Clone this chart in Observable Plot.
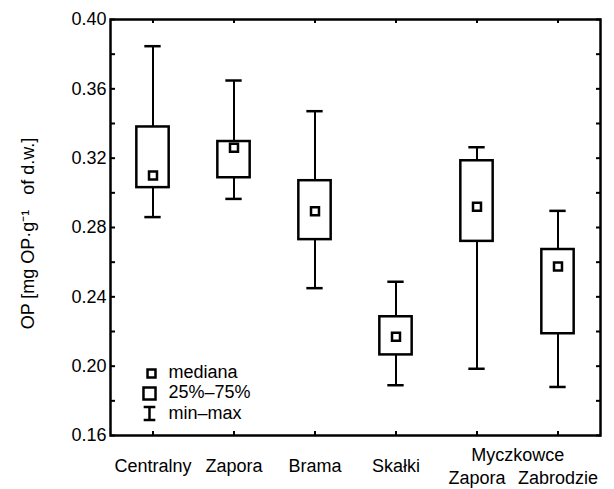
<!DOCTYPE html>
<html>
<head>
<meta charset="utf-8">
<script src="https://cdn.jsdelivr.net/npm/d3@7"></script>
<script src="https://cdn.jsdelivr.net/npm/@observablehq/plot@0.6"></script>
<style>
  html, body { margin: 0; padding: 0; background: #fff; }
  #chart svg { display: block; }
</style>
</head>
<body>
<div id="chart"></div>
<script>
// ---- data ----
const sites = ["Centralny", "Zapora", "Brama", "Skałki", "Myczkowce Zapora", "Myczkowce Zabrodzie"];
const siteLabels = ["Centralny", "Zapora", "Brama", "Skałki", "Zapora", "Zabrodzie"];
const groupLabel = "Myczkowce";
const mins    = [0.286, 0.2965, 0.245, 0.189, 0.1985, 0.188];
const q1s     = [0.303, 0.3087, 0.273, 0.2065, 0.272, 0.2187];
const medians = [0.310, 0.326, 0.2894, 0.217, 0.292, 0.2575];
const q3s     = [0.338, 0.3296, 0.307, 0.2285, 0.3185, 0.2673];
const maxs    = [0.3846, 0.3648, 0.3471, 0.2487, 0.3263, 0.2896];
const yTickLabels = [0.16, 0.20, 0.24, 0.28, 0.32, 0.36, 0.40];
const yTicksAll = [0.16, 0.18, 0.20, 0.22, 0.24, 0.26, 0.28, 0.30, 0.32, 0.34, 0.36, 0.38, 0.40];
const yLabel = "OP [mg OP·g⁻¹   of d.w.]";
const legendLabels = ["mediana", "25%–75%", "min–max"];

const data = sites.map((s, i) => ({site: s, min: mins[i], q1: q1s[i], med: medians[i], q3: q3s[i], max: maxs[i]}));
const labelOf = new Map(sites.map((s, i) => [s, siteLabels[i]]));

const symbolI = {
  draw(ctx, size) {
    const h = Math.sqrt(size) / 2;
    ctx.moveTo(-h * 0.9, -h); ctx.lineTo(h * 0.9, -h);
    ctx.moveTo(0, -h); ctx.lineTo(0, h);
    ctx.moveTo(-h * 0.9, h); ctx.lineTo(h * 0.9, h);
  }
};

const font = "'Liberation Sans', Arial, sans-serif";
const bw = 490 / 6;
const boxInset = (bw - 33) / 2;
const capInset = (bw - 17) / 2;

const plot = Plot.plot({
  width: 614,
  height: 489,
  marginLeft: 110,
  marginRight: 14,
  marginTop: 19,
  marginBottom: 54,
  style: {fontFamily: font, fontSize: "18px", color: "#000", background: "#fff"},
  x: {type: "band", domain: sites, padding: 0},
  y: {domain: [0.16, 0.40]},
  marks: [
    // whiskers
    Plot.ruleX(data, {x: "site", y1: "min", y2: "q1", stroke: "#000", strokeWidth: 2}),
    Plot.ruleX(data, {x: "site", y1: "q3", y2: "max", stroke: "#000", strokeWidth: 2}),
    Plot.tickY(data, {x: "site", y: "min", stroke: "#000", strokeWidth: 2.5, insetLeft: capInset, insetRight: capInset}),
    Plot.tickY(data, {x: "site", y: "max", stroke: "#000", strokeWidth: 2.5, insetLeft: capInset, insetRight: capInset}),
    // boxes
    Plot.barY(data, {x: "site", y1: "q1", y2: "q3", fill: "#fff", stroke: "#000", strokeWidth: 2.5, insetLeft: boxInset, insetRight: boxInset}),
    // medians
    Plot.dot(data, {x: "site", y: "med", symbol: "square", r: 4.5, fill: "#fff", stroke: "#000", strokeWidth: 2.5}),
    // axes
    Plot.axisY(yTickLabels, {anchor: "left", tickSize: 0, tickPadding: 4, tickFormat: d3.format(".2f"), fontSize: 18, label: null}),
    Plot.axisY(yTicksAll, {anchor: "left", tickSize: -5, text: null, strokeWidth: 2, label: null}),
    Plot.axisY(yTicksAll, {anchor: "right", tickSize: -5, text: null, strokeWidth: 2, label: null}),
    Plot.axisX({anchor: "top", tickSize: -3, text: null, strokeWidth: 2, label: null}),
    Plot.axisX({anchor: "bottom", tickSize: -4, text: null, strokeWidth: 2, label: null}),
    Plot.axisX(sites.slice(0, 4), {anchor: "bottom", tickSize: 0, tickPadding: 24, tickFormat: d => labelOf.get(d), fontSize: 18, label: null}),
    Plot.axisX(sites.slice(4), {anchor: "bottom", tickSize: 0, tickPadding: 36, tickFormat: d => labelOf.get(d), fontSize: 18, label: null}),
    Plot.text([groupLabel], {x: () => sites[4], text: d => d, frameAnchor: "bottom", lineAnchor: "middle", dx: bw / 2, dy: 20, fontSize: 18}),
    // y label
    Plot.text([yLabel], {text: d => d, frameAnchor: "left", textAnchor: "middle", lineAnchor: "middle", dx: -82, dy: 6, rotate: -90, fontSize: 18}),
    // frame
    Plot.frame({stroke: "#000", strokeWidth: 2.5}),
    // legend
    Plot.dot([legendLabels[0]], {frameAnchor: "bottom-left", dx: 41, dy: -62, symbol: "square", r: 4.5, fill: "#fff", stroke: "#000", strokeWidth: 2.5}),
    Plot.dot([legendLabels[1]], {frameAnchor: "bottom-left", dx: 39, dy: -42, symbol: "square", r: 6.8, fill: "#fff", stroke: "#000", strokeWidth: 2.5}),
    Plot.dot([legendLabels[2]], {frameAnchor: "bottom-left", dx: 39, dy: -22, symbol: symbolI, r: 7.3, fill: "none", stroke: "#000", strokeWidth: 2.5}),
    Plot.text([legendLabels[0]], {text: d => d, frameAnchor: "bottom-left", lineAnchor: "middle", dx: 58, dy: -63, textAnchor: "start", fontSize: 18}),
    Plot.text([legendLabels[1]], {text: d => d, frameAnchor: "bottom-left", lineAnchor: "middle", dx: 58, dy: -43, textAnchor: "start", fontSize: 18}),
    Plot.text([legendLabels[2]], {text: d => d, frameAnchor: "bottom-left", lineAnchor: "middle", dx: 58, dy: -22, textAnchor: "start", fontSize: 18})
  ]
});
document.getElementById("chart").append(plot);
</script>
</body>
</html>
